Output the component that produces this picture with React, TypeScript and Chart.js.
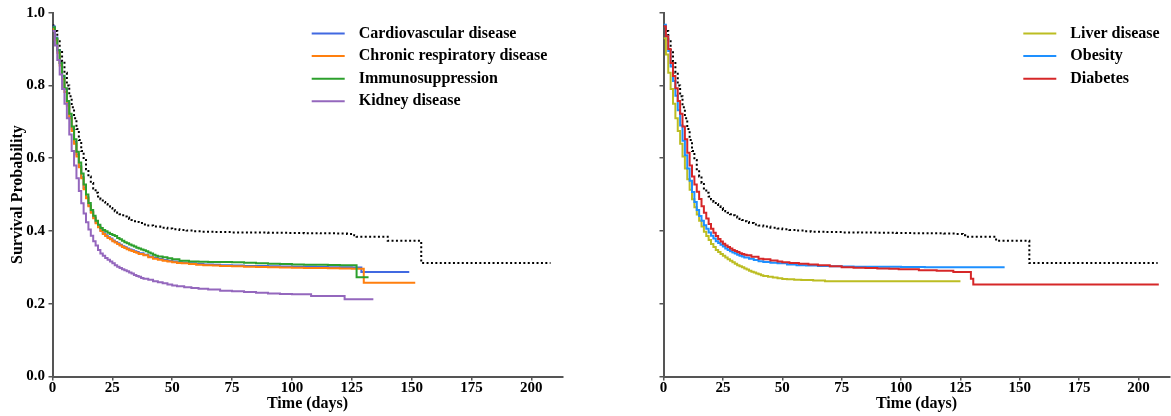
import React, { useEffect, useRef } from 'react';
import { Chart, registerables } from 'chart.js';
Chart.register(...registerables);

const FONT = '"Liberation Serif", "Times New Roman", Times, serif';

// ---- Data ----
const xTickStep = 25;
const xMax = 213;
const yTickStep = 0.2;

// Overall population reference curve (dotted, both panels)
const overallT = [0,1,2,3,4,5,6,7,8,9,10,11,12,13,14,15,16,17,18,19,20,21,22,23,24,25,26,27,28,29,30,31,32,33,34,35,36,38,40,42,45,48,50,53,56,59,62,68,75,82,90,98,105,112,118,123,126,127,140,154,208];
const overallS = [0.965,0.95,0.925,0.895,0.865,0.835,0.80,0.77,0.74,0.71,0.68,0.65,0.62,0.595,0.57,0.55,0.532,0.517,0.505,0.495,0.487,0.48,0.474,0.468,0.463,0.458,0.454,0.45,0.446,0.443,0.44,0.437,0.433,0.43,0.427,0.425,0.422,0.418,0.415,0.412,0.409,0.407,0.405,0.403,0.401,0.399,0.398,0.397,0.396,0.3955,0.395,0.3945,0.394,0.3935,0.393,0.392,0.388,0.384,0.373,0.312,0.312];

// Left panel
const cardioT = [0,1,2,3,4,5,6,7,8,9,10,11,12,13,14,15,16,17,18,19,20,21,22,23,24,25,26,27,28,29,30,31,32,33,34,35,36,38,40,42,44,46,48,50,52,54,57,60,63,67,70,75,80,85,90,95,100,105,110,115,120,125,129,149];
const cardioS = [0.962,0.932,0.897,0.862,0.825,0.79,0.752,0.715,0.68,0.645,0.61,0.578,0.548,0.518,0.493,0.47,0.452,0.437,0.423,0.412,0.402,0.394,0.388,0.383,0.379,0.374,0.37,0.366,0.362,0.358,0.355,0.352,0.349,0.347,0.344,0.342,0.339,0.335,0.33,0.326,0.323,0.32,0.318,0.316,0.314,0.313,0.311,0.309,0.308,0.307,0.306,0.305,0.304,0.3035,0.303,0.3025,0.302,0.3015,0.301,0.3005,0.300,0.2995,0.287,0.287];

const respT = [0,1,2,3,4,5,6,7,8,9,10,11,12,13,14,15,16,17,18,19,20,21,22,23,24,25,26,27,28,29,30,31,32,33,34,35,36,38,40,42,44,46,48,50,52,54,57,60,63,67,70,75,80,85,90,95,100,105,110,115,120,125,130,151.5];
const respS = [0.955,0.925,0.89,0.855,0.818,0.782,0.745,0.71,0.675,0.64,0.605,0.575,0.545,0.515,0.49,0.468,0.45,0.435,0.421,0.41,0.40,0.392,0.386,0.381,0.377,0.372,0.368,0.364,0.36,0.356,0.353,0.35,0.347,0.345,0.342,0.34,0.337,0.333,0.328,0.324,0.321,0.318,0.316,0.314,0.312,0.311,0.309,0.307,0.306,0.305,0.304,0.303,0.302,0.301,0.300,0.2995,0.299,0.2985,0.298,0.2975,0.297,0.2965,0.258,0.258];

const immunoT = [0,1,2,3,4,5,6,7,8,9,10,11,12,13,14,15,16,17,18,19,20,21,22,23,24,25,26,27,28,29,30,31,32,33,34,35,36,37,38,39,40,41,42,43,44,46,48,50,53,57,61,65,70,75,80,85,90,95,100,105,110,115,120,127,132];
const immunoS = [0.96,0.93,0.897,0.862,0.827,0.792,0.757,0.722,0.687,0.652,0.618,0.588,0.558,0.528,0.5,0.477,0.458,0.442,0.428,0.417,0.408,0.403,0.399,0.395,0.392,0.389,0.386,0.381,0.377,0.373,0.369,0.366,0.363,0.36,0.357,0.354,0.352,0.349,0.347,0.344,0.341,0.338,0.335,0.332,0.33,0.328,0.325,0.322,0.318,0.316,0.3155,0.315,0.3145,0.314,0.3125,0.311,0.31,0.309,0.308,0.3075,0.307,0.3065,0.306,0.273,0.273];

const kidneyT = [0,1,2,3,4,5,6,7,8,9,10,11,12,13,14,15,16,17,18,19,20,21,22,23,24,25,26,27,28,29,30,31,32,33,34,35,36,37,38,40,42,44,46,48,50,52,55,58,61,65,70,75,80,85,90,95,100,108,122,134];
const kidneyS = [0.95,0.91,0.87,0.83,0.79,0.75,0.71,0.665,0.62,0.58,0.545,0.51,0.476,0.448,0.424,0.404,0.387,0.372,0.36,0.348,0.338,0.332,0.326,0.321,0.316,0.311,0.306,0.302,0.298,0.295,0.292,0.289,0.286,0.283,0.279,0.276,0.274,0.271,0.269,0.266,0.262,0.259,0.256,0.253,0.25,0.248,0.245,0.243,0.241,0.239,0.236,0.234,0.232,0.23,0.228,0.227,0.226,0.221,0.212,0.212];

// Right panel
const liverT = [0,1,2,3,4,5,6,7,8,9,10,11,12,13,14,15,16,17,18,19,20,21,22,23,24,25,26,27,28,29,30,31,32,33,34,35,36,37,38,39,40,41,42,44,46,48,50,52,55,58,63,68,125];
const liverS = [0.93,0.885,0.835,0.79,0.75,0.71,0.675,0.64,0.605,0.572,0.542,0.513,0.487,0.465,0.445,0.428,0.412,0.398,0.386,0.375,0.364,0.356,0.348,0.342,0.337,0.332,0.327,0.322,0.318,0.314,0.31,0.306,0.303,0.3,0.297,0.294,0.291,0.288,0.286,0.283,0.281,0.278,0.276,0.274,0.272,0.27,0.268,0.267,0.266,0.265,0.264,0.262,0.262];

const obesityT = [0,1,2,3,4,5,6,7,8,9,10,11,12,13,14,15,16,17,18,19,20,21,22,23,24,25,26,27,28,29,30,31,32,33,34,36,38,40,42,45,48,52,56,60,65,70,75,80,90,100,110,120,143.6];
const obesityS = [0.967,0.935,0.895,0.852,0.812,0.772,0.732,0.69,0.648,0.608,0.572,0.538,0.507,0.48,0.458,0.441,0.428,0.416,0.406,0.396,0.387,0.379,0.372,0.367,0.362,0.357,0.352,0.348,0.344,0.341,0.338,0.335,0.332,0.33,0.327,0.324,0.32,0.317,0.315,0.313,0.311,0.308,0.306,0.305,0.304,0.303,0.3025,0.302,0.3015,0.301,0.3005,0.300,0.300];

const diabetesT = [0,1,2,3,4,5,6,7,8,9,10,11,12,13,14,15,16,17,18,19,20,21,22,23,24,25,26,27,28,29,30,31,32,33,34,35,37,40,42,45,48,50,53,57,61,65,70,75,80,85,90,95,99,107.5,115,122,129.4,130.4,208.5];
const diabetesS = [0.963,0.935,0.9,0.862,0.826,0.792,0.757,0.722,0.687,0.652,0.615,0.58,0.55,0.528,0.508,0.488,0.468,0.45,0.434,0.419,0.406,0.395,0.386,0.378,0.371,0.365,0.36,0.356,0.352,0.348,0.345,0.342,0.339,0.337,0.335,0.333,0.329,0.324,0.322,0.319,0.316,0.314,0.312,0.31,0.308,0.306,0.303,0.3,0.299,0.298,0.297,0.296,0.295,0.292,0.2905,0.287,0.269,0.253,0.253];

const leftLabels = ['Cardiovascular disease', 'Chronic respiratory disease', 'Immunosuppression', 'Kidney disease'];
const rightLabels = ['Liver disease', 'Obesity', 'Diabetes'];
const leftColors = ['#4169E1', '#FF7F0E', '#2CA02C', '#9467BD'];
const rightColors = ['#BCBD22', '#1E90FF', '#D62728'];

const xTitle = 'Time (days)';
const yTitle = 'Survival Probability';

type Series = { label: string; color: string; t: number[]; s: number[] };

const leftSeries: Series[] = [
  { label: leftLabels[0], color: leftColors[0], t: cardioT, s: cardioS },
  { label: leftLabels[1], color: leftColors[1], t: respT, s: respS },
  { label: leftLabels[2], color: leftColors[2], t: immunoT, s: immunoS },
  { label: leftLabels[3], color: leftColors[3], t: kidneyT, s: kidneyS },
];
const rightSeries: Series[] = [
  { label: rightLabels[0], color: rightColors[0], t: liverT, s: liverS },
  { label: rightLabels[1], color: rightColors[1], t: obesityT, s: obesityS },
  { label: rightLabels[2], color: rightColors[2], t: diabetesT, s: diabetesS },
];

const toPoints = (t: number[], s: number[]) => t.map((x, i) => ({ x, y: s[i] }));

const legendPlugin = {
  id: 'kmLegend',
  afterDraw(chart: any, _args: any, opts: any) {
    const ctx = chart.ctx;
    const items = chart.data.datasets.filter((d: any) => d.label);
    ctx.save();
    ctx.font = `bold 16px ${FONT}`;
    ctx.textBaseline = 'middle';
    ctx.textAlign = 'left';
    items.forEach((d: any, i: number) => {
      const y = opts.y0 + i * opts.dy;
      ctx.strokeStyle = d.borderColor;
      ctx.lineWidth = 2;
      ctx.beginPath();
      ctx.moveTo(opts.x0, y);
      ctx.lineTo(opts.x0 + 33, y);
      ctx.stroke();
      ctx.fillStyle = '#000';
      ctx.fillText(d.label, opts.x0 + 47, y);
    });
    ctx.restore();
  },
};

const AXIS_COLOR = '#555';

function Panel(props: {
  left: number; width: number; yAxisWidth: number; padRight: number;
  series: Series[]; showYLabels: boolean; legendX: number; legendY: number;
}) {
  const ref = useRef<HTMLCanvasElement>(null);
  useEffect(() => {
    if (!ref.current) return;
    const n = props.series.length;
    const datasets: any[] = props.series.map((s, i) => ({
      label: s.label,
      data: toPoints(s.t, s.s),
      borderColor: s.color,
      backgroundColor: s.color,
      borderWidth: 2,
      pointRadius: 0,
      stepped: 'before',
      fill: false,
      order: n - i,
    }));
    datasets.push({
      label: '',
      data: toPoints(overallT, overallS),
      borderColor: '#000',
      borderWidth: 2,
      borderDash: [2, 2.4],
      pointRadius: 0,
      stepped: 'before',
      fill: false,
      order: n + 1,
    });
    const chart = new Chart(ref.current, {
      type: 'line',
      data: { datasets },
      plugins: [legendPlugin as any],
      options: {
        animation: false,
        responsive: false,
        maintainAspectRatio: false,
        layout: { padding: { left: 0, top: 12.7, right: props.padRight, bottom: 0 } },
        plugins: {
          legend: { display: false },
          tooltip: { enabled: false },
          kmLegend: { x0: props.legendX, y0: props.legendY, dy: 22.6 },
        } as any,
        scales: {
          x: {
            type: 'linear',
            min: 0,
            max: xMax,
            grid: { display: true, drawOnChartArea: false, drawTicks: true, tickLength: 4, color: AXIS_COLOR, lineWidth: 1.5 },
            border: { display: true, color: AXIS_COLOR, width: 2 },
            ticks: {
              stepSize: xTickStep,
              includeBounds: false,
              color: '#000',
              padding: 0,
              maxRotation: 0,
              font: { family: FONT, size: 15, weight: 'bold', lineHeight: 1 },
            },
            afterBuildTicks: (scale: any) => {
              scale.ticks = scale.ticks.filter((t: any) => t.value % xTickStep === 0);
            },
            afterFit: (scale: any) => { scale.height = 39.5; },
            title: {
              display: true,
              text: xTitle,
              color: '#000',
              font: { family: FONT, size: 16, weight: 'bold', lineHeight: 1.2 },
              padding: { top: 0, bottom: 3 },
            },
          },
          y: {
            type: 'linear',
            min: 0,
            max: 1,
            grid: { display: true, drawOnChartArea: false, drawTicks: true, tickLength: 4, color: AXIS_COLOR, lineWidth: 1.5 },
            border: { display: true, color: AXIS_COLOR, width: 2 },
            ticks: {
              stepSize: yTickStep,
              color: '#000',
              padding: 3.5,
              font: { family: FONT, size: 15, weight: 'bold', lineHeight: 1 },
              callback: (v: any) => (props.showYLabels ? Number(v).toFixed(1) : ''),
            },
            afterFit: (scale: any) => { scale.width = props.yAxisWidth; },
            title: {
              display: props.showYLabels,
              text: yTitle,
              color: '#000',
              font: { family: FONT, size: 16, weight: 'bold', lineHeight: 1.2 },
              padding: { top: 8.7, bottom: 0 },
            },
          },
        },
      },
    });
    return () => chart.destroy();
  }, []);
  return (
    <canvas
      ref={ref}
      width={props.width}
      height={416}
      style={{ position: 'absolute', left: props.left, top: 0, width: props.width, height: 416 }}
    />
  );
}

export default function App() {
  return (
    <div style={{ position: 'absolute', left: 0, top: 0, width: 1171, height: 416, background: '#fff', overflow: 'hidden' }}>
      <Panel left={0} width={600} yAxisWidth={52.5} padRight={600 - 562.5} series={leftSeries} showYLabels={true} legendX={311.7} legendY={33.5} />
      <Panel left={600} width={571} yAxisWidth={63.5} padRight={571 - 569.5} series={rightSeries} showYLabels={false} legendX={423.3} legendY={33.5} />
    </div>
  );
}
